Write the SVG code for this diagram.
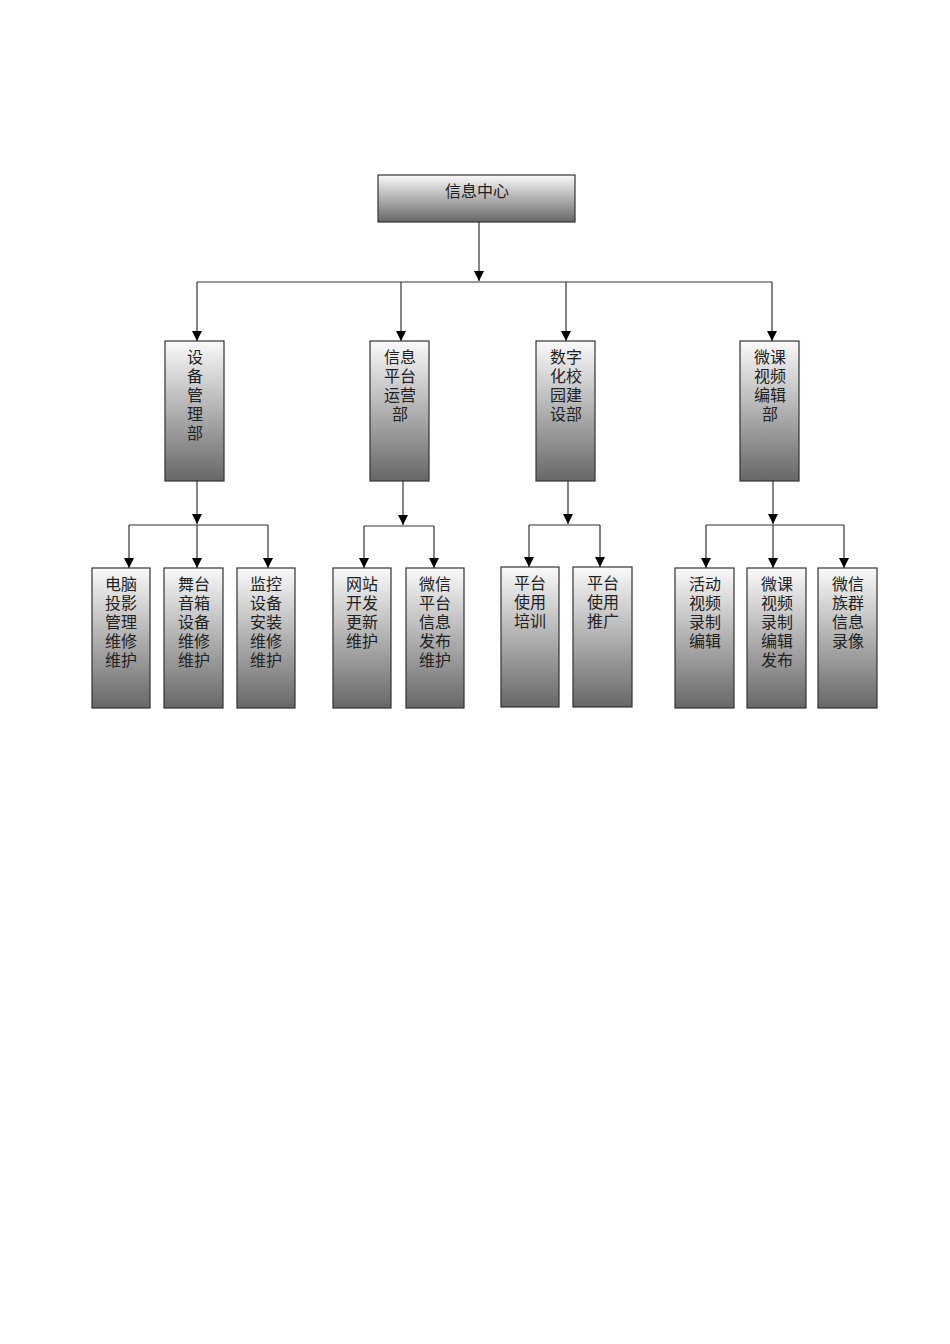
<svg xmlns="http://www.w3.org/2000/svg" width="950" height="1344" viewBox="0 0 950 1344">
<style>
.box{stroke:#333;stroke-width:1.2;fill:url(#g)}
.t{font-family:"Liberation Serif","Noto Sans CJK SC",serif;font-size:16px;fill:#222;text-anchor:middle}
.c{stroke:#333;stroke-width:1.2;fill:none}
</style>
<defs>
<linearGradient id="g" x1="0" y1="0" x2="0" y2="1"><stop offset="0" stop-color="#fafafa"/><stop offset="1" stop-color="#676767"/></linearGradient>
<marker id="a" viewBox="0 0 10 10" refX="10" refY="5" markerWidth="10" markerHeight="10" markerUnits="userSpaceOnUse" orient="auto"><path d="M0,0L10,5L0,10Z" fill="#000"/></marker>
</defs>
<rect width="950" height="1344" fill="#fff"/>
<g id="connectors">
<path class="c" d="M479,222V281" marker-end="url(#a)"/>
<path class="c" d="M197,282H772"/>
<path class="c" d="M197,282V341" marker-end="url(#a)"/>
<path class="c" d="M401,282V341" marker-end="url(#a)"/>
<path class="c" d="M566,282V341" marker-end="url(#a)"/>
<path class="c" d="M772,282V341" marker-end="url(#a)"/>
<path class="c" d="M197,481V524" marker-end="url(#a)"/>
<path class="c" d="M129,525H268"/>
<path class="c" d="M129,525V568" marker-end="url(#a)"/>
<path class="c" d="M197,525V568" marker-end="url(#a)"/>
<path class="c" d="M268,525V568" marker-end="url(#a)"/>
<path class="c" d="M403,481V525" marker-end="url(#a)"/>
<path class="c" d="M364,526H434"/>
<path class="c" d="M364,526V568" marker-end="url(#a)"/>
<path class="c" d="M434,526V568" marker-end="url(#a)"/>
<path class="c" d="M568,481V524" marker-end="url(#a)"/>
<path class="c" d="M529,525H600"/>
<path class="c" d="M529,525V567" marker-end="url(#a)"/>
<path class="c" d="M600,525V567" marker-end="url(#a)"/>
<path class="c" d="M773,481V524" marker-end="url(#a)"/>
<path class="c" d="M706,525H844"/>
<path class="c" d="M706,525V568" marker-end="url(#a)"/>
<path class="c" d="M773,525V568" marker-end="url(#a)"/>
<path class="c" d="M844,525V568" marker-end="url(#a)"/>
</g>
<g id="n0"><rect class="box" x="378" y="175" width="197" height="47"/><text class="t" x="477" y="197">信息中心</text></g>
<g id="n1"><rect class="box" x="165" y="341" width="59" height="140"/><text class="t" x="195"><tspan x="195" y="363">设</tspan><tspan x="195" y="382">备</tspan><tspan x="195" y="401">管</tspan><tspan x="195" y="420">理</tspan><tspan x="195" y="439">部</tspan></text></g>
<g id="n2"><rect class="box" x="370" y="341" width="59" height="140"/><text class="t" x="400"><tspan x="400" y="363">信息</tspan><tspan x="400" y="382">平台</tspan><tspan x="400" y="401">运营</tspan><tspan x="400" y="420">部</tspan></text></g>
<g id="n3"><rect class="box" x="536" y="341" width="59" height="140"/><text class="t" x="566"><tspan x="566" y="363">数字</tspan><tspan x="566" y="382">化校</tspan><tspan x="566" y="401">园建</tspan><tspan x="566" y="420">设部</tspan></text></g>
<g id="n4"><rect class="box" x="740" y="341" width="59" height="140"/><text class="t" x="770"><tspan x="770" y="363">微课</tspan><tspan x="770" y="382">视频</tspan><tspan x="770" y="401">编辑</tspan><tspan x="770" y="420">部</tspan></text></g>
<g id="n5"><rect class="box" x="92" y="568" width="58" height="140"/><text class="t"><tspan x="121" y="590">电脑</tspan><tspan x="121" y="609">投影</tspan><tspan x="121" y="628">管理</tspan><tspan x="121" y="647">维修</tspan><tspan x="121" y="666">维护</tspan></text></g>
<g id="n6"><rect class="box" x="164" y="568" width="59" height="140"/><text class="t"><tspan x="194" y="590">舞台</tspan><tspan x="194" y="609">音箱</tspan><tspan x="194" y="628">设备</tspan><tspan x="194" y="647">维修</tspan><tspan x="194" y="666">维护</tspan></text></g>
<g id="n7"><rect class="box" x="237" y="568" width="58" height="140"/><text class="t"><tspan x="266" y="590">监控</tspan><tspan x="266" y="609">设备</tspan><tspan x="266" y="628">安装</tspan><tspan x="266" y="647">维修</tspan><tspan x="266" y="666">维护</tspan></text></g>
<g id="n8"><rect class="box" x="333" y="568" width="58" height="140"/><text class="t"><tspan x="362" y="590">网站</tspan><tspan x="362" y="609">开发</tspan><tspan x="362" y="628">更新</tspan><tspan x="362" y="647">维护</tspan></text></g>
<g id="n9"><rect class="box" x="406" y="568" width="58" height="140"/><text class="t"><tspan x="435" y="590">微信</tspan><tspan x="435" y="609">平台</tspan><tspan x="435" y="628">信息</tspan><tspan x="435" y="647">发布</tspan><tspan x="435" y="666">维护</tspan></text></g>
<g id="n10"><rect class="box" x="501" y="567" width="58" height="140"/><text class="t"><tspan x="530" y="589">平台</tspan><tspan x="530" y="608">使用</tspan><tspan x="530" y="627">培训</tspan></text></g>
<g id="n11"><rect class="box" x="573" y="567" width="59" height="140"/><text class="t"><tspan x="603" y="589">平台</tspan><tspan x="603" y="608">使用</tspan><tspan x="603" y="627">推广</tspan></text></g>
<g id="n12"><rect class="box" x="675" y="568" width="59" height="140"/><text class="t"><tspan x="705" y="590">活动</tspan><tspan x="705" y="609">视频</tspan><tspan x="705" y="628">录制</tspan><tspan x="705" y="647">编辑</tspan></text></g>
<g id="n13"><rect class="box" x="747" y="568" width="59" height="140"/><text class="t"><tspan x="777" y="590">微课</tspan><tspan x="777" y="609">视频</tspan><tspan x="777" y="628">录制</tspan><tspan x="777" y="647">编辑</tspan><tspan x="777" y="666">发布</tspan></text></g>
<g id="n14"><rect class="box" x="818" y="568" width="59" height="140"/><text class="t"><tspan x="848" y="590">微信</tspan><tspan x="848" y="609">族群</tspan><tspan x="848" y="628">信息</tspan><tspan x="848" y="647">录像</tspan></text></g>
</svg>
